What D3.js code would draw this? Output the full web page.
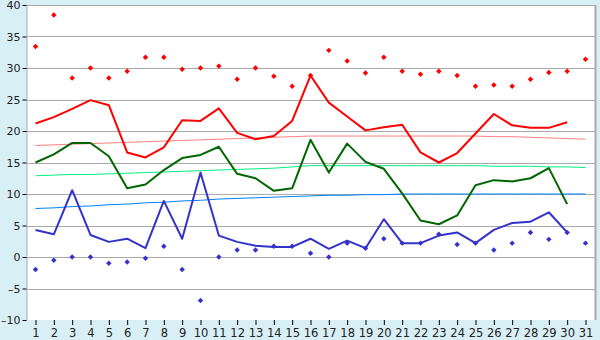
<!DOCTYPE html>
<html>
<head>
<meta charset="utf-8">
<script src="https://cdn.jsdelivr.net/npm/d3@7"></script>
<style>
  body { margin: 0; background: #d9eff6; }
  svg { display: block; }
</style>
</head>
<body>
<svg id="chart" width="600" height="340"></svg>
<script>
const width = 600, height = 340;
const marginTop = 5, marginRight = 5, marginBottom = 20, marginLeft = 27;

const days = d3.range(1, 32);
const yTicks = [-10, -5, 0, 5, 10, 15, 20, 25, 30, 35, 40];

// daily extremes (points)
const maxPoints = [33.4, 38.4, 28.4, 30.0, 28.4, 29.5, 31.7, 31.7, 29.8, 30.0, 30.3, 28.2, 30.0, 28.7, 27.1, 28.8,
                   32.8, 31.1, 29.2, 31.7, 29.5, 29.0, 29.5, 28.8, 27.1, 27.3, 27.1, 28.2, 29.3, 29.5, 31.4];
const minPoints = [-2.0, -0.5, 0.0, 0.0, -1.0, -0.8, -0.2, 1.7, -2.0, -6.9, 0.0, 1.1, 1.1, 1.7, 1.7, 0.6,
                   0.0, 2.2, 1.4, 2.9, 2.2, 2.2, 3.6, 2.0, 2.2, 1.1, 2.2, 3.9, 2.8, 3.9, 2.2];

// this month's series (days 1-30)
const maxLine = [21.2, 22.2, 23.5, 24.9, 24.1, 16.6, 15.8, 17.4, 21.7, 21.6, 23.6, 19.7, 18.7, 19.2, 21.6, 28.8,
                 24.5, 22.3, 20.1, 20.6, 21.0, 16.6, 15.0, 16.5, 19.6, 22.7, 20.9, 20.5, 20.5, 21.4];
const meanLine = [15.0, 16.3, 18.1, 18.1, 16.0, 10.9, 11.5, 13.8, 15.7, 16.2, 17.5, 13.2, 12.5, 10.5, 10.9, 18.6,
                  13.4, 18.0, 15.1, 14.0, 10.1, 5.8, 5.2, 6.6, 11.4, 12.2, 12.0, 12.5, 14.1, 8.4];
const minLine = [4.3, 3.6, 10.6, 3.5, 2.4, 2.9, 1.4, 8.9, 2.9, 13.4, 3.4, 2.4, 1.8, 1.6, 1.6, 2.9,
                 1.3, 2.6, 1.4, 6.0, 2.2, 2.2, 3.4, 3.9, 2.2, 4.3, 5.4, 5.6, 7.1, 3.9];

// normals (days 1-31)
const maxNormal = [17.7, 17.8, 17.9, 18.0, 18.1, 18.2, 18.3, 18.4, 18.5, 18.6, 18.7, 18.8, 18.9, 19.0, 19.1, 19.2,
                   19.2, 19.2, 19.2, 19.2, 19.2, 19.2, 19.2, 19.2, 19.2, 19.1, 19.1, 19.0, 18.9, 18.8, 18.7];
const meanNormal = [12.9, 13.0, 13.1, 13.1, 13.2, 13.3, 13.4, 13.5, 13.6, 13.7, 13.8, 13.9, 14.0, 14.1, 14.3, 14.5,
                    14.5, 14.5, 14.5, 14.5, 14.5, 14.5, 14.5, 14.5, 14.5, 14.4, 14.4, 14.4, 14.3, 14.3, 14.2];
const minNormal = [7.7, 7.8, 8.0, 8.1, 8.3, 8.4, 8.6, 8.7, 8.9, 9.0, 9.2, 9.3, 9.4, 9.5, 9.6, 9.7,
                   9.8, 9.8, 9.9, 9.9, 10.0, 10.0, 10.0, 10.0, 10.0, 10.0, 10.0, 10.0, 10.0, 10.0, 10.0];

const svg = d3.select("#chart");

const x = d3.scalePoint().domain(days).range([35.5, 585.5]);
const y = d3.scaleLinear().domain([-10, 40]).range([height - marginBottom, marginTop]);

// plot area
svg.append("rect")
    .attr("x", marginLeft)
    .attr("y", marginTop)
    .attr("width", width - marginRight - marginLeft)
    .attr("height", height - marginBottom - marginTop)
    .attr("fill", "#fff");

// grid lines
svg.append("g")
    .selectAll("line")
    .data(yTicks.slice(1))
    .join("line")
    .attr("x1", marginLeft)
    .attr("x2", width - marginRight)
    .attr("y1", d => Math.round(y(d)) + 0.5)
    .attr("y2", d => Math.round(y(d)) + 0.5)
    .attr("stroke", "#aaa");

// right border (2px)
svg.append("line")
    .attr("x1", width - marginRight + 0.5).attr("x2", width - marginRight + 0.5)
    .attr("y1", marginTop).attr("y2", height - marginBottom)
    .attr("stroke", "#aaa").attr("stroke-width", 2);

// y axis
svg.append("g")
    .attr("transform", `translate(${marginLeft - 0.5},0)`)
    .call(d3.axisLeft(y).tickValues(yTicks).tickSize(4).tickPadding(2).tickFormat(d => d < 0 ? "\u2013" + (-d) : d))
    .call(g => g.select(".domain").attr("stroke", "#aaa").attr("d", `M0.5,${marginTop}V${height - marginBottom}`))
    .call(g => g.selectAll(".tick line").attr("stroke", "#000"))
    .call(g => g.selectAll("text").attr("font-family", "Verdana, DejaVu Sans, sans-serif").attr("font-size", 11).attr("fill", "#222"));

// x axis
svg.append("g")
    .attr("transform", `translate(0,${height - marginBottom})`)
    .call(d3.axisBottom(x).tickSize(5).tickPadding(4).tickSizeOuter(0))
    .call(g => g.select(".domain").remove())
    .call(g => g.selectAll(".tick line").attr("stroke", "#000"))
    .call(g => g.selectAll("text").attr("font-family", "Verdana, DejaVu Sans, sans-serif").attr("font-size", 11.5).attr("fill", "#222"));

// normals
const normals = [
    {values: maxNormal, color: "#ff8080"},
    {values: meanNormal, color: "#00f080"},
    {values: minNormal, color: "#0080ff"}
];
const line = d3.line().x((d, i) => x(days[i])).y(d => y(d));

normals.forEach(n => {
    svg.append("path")
        .attr("fill", "none")
        .attr("stroke", n.color)
        .attr("stroke-width", 1)
        .attr("d", line(n.values));
});

// month series
const series = [
    {values: maxLine, color: "#ff0000"},
    {values: meanLine, color: "#006600"},
    {values: minLine, color: "#3333cc"}
];
series.forEach(s => {
    svg.append("path")
        .attr("fill", "none")
        .attr("stroke", s.color)
        .attr("stroke-width", 2)
        .attr("stroke-linejoin", "round")
        .attr("d", line(s.values));
});

// extreme points
const diamond = d3.symbol().type(d3.symbolDiamond2).size(19);
[{values: maxPoints, color: "#ff0000"}, {values: minPoints, color: "#3333cc"}].forEach(p => {
    svg.append("g")
        .selectAll("path")
        .data(p.values)
        .join("path")
        .attr("transform", (d, i) => `translate(${x(days[i])},${y(d)})`)
        .attr("d", diamond)
        .attr("fill", p.color);
});
</script>
</body>
</html>
